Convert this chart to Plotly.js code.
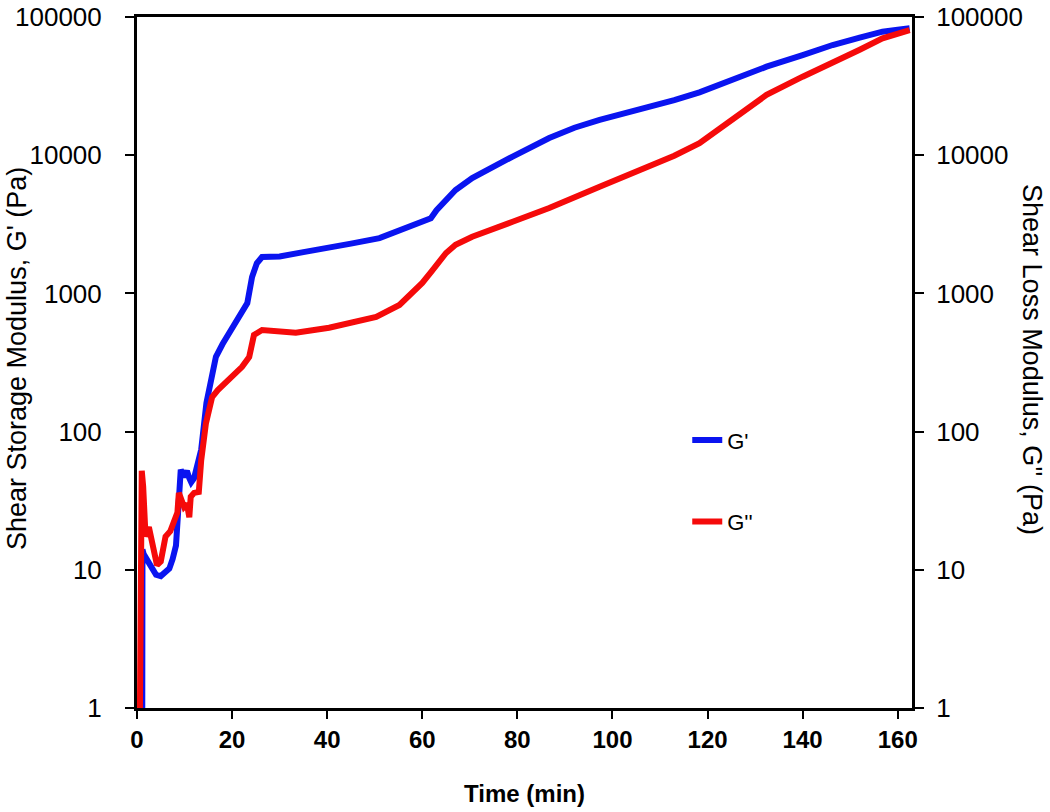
<!DOCTYPE html>
<html>
<head>
<meta charset="utf-8">
<script src="https://cdn.plot.ly/plotly-3.0.1.min.js"></script>
<style>
  html, body { margin: 0; padding: 0; background: #fff; }
  #chart { width: 1050px; height: 812px; }
</style>
</head>
<body>
<div id="chart"></div>
<script>
// Time (min) and storage modulus G' (Pa)
var timeGp = [1.1, 1.15, 1.4, 2.0, 3.0, 4.0, 5.0, 6.0, 6.8, 7.5, 8.2, 8.7, 9.2, 9.8, 10.5, 11.0, 11.4, 12.0, 13.0, 13.5, 14.6, 15.5, 16.6, 18.0, 19.4, 21.0, 22.1, 23.2, 24.2, 25.2, 26.3, 28, 30, 35, 40.4, 45, 51, 57.3, 61.8, 63, 65, 67, 70.5, 75, 79, 86.7, 92, 97.3, 102, 107.8, 113, 118.3, 124, 128.8, 132.4, 140, 146.3, 152, 156.8, 160, 162.5];
var storageModulus = [0.5, 14, 13, 12, 10.5, 9.2, 9, 9.5, 10.2, 12, 15, 28, 53, 47, 52, 46, 43, 46, 62, 74, 161, 240, 348, 430, 517, 640, 759, 851, 1315, 1650, 1834, 1840, 1850, 1990, 2130, 2290, 2510, 3040, 3500, 4000, 4740, 5600, 6840, 8300, 9780, 13300, 15800, 18000, 19800, 22400, 25000, 28500, 34000, 39200, 43700, 53000, 62700, 71000, 78300, 81000, 82800];

// Time (min) and loss modulus G'' (Pa)
var timeGpp = [0.55, 0.7, 0.85, 1.0, 1.3, 1.8, 2.5, 3.2, 4.2, 5.0, 5.5, 6.0, 7.0, 7.8, 8.5, 8.8, 9.3, 9.9, 10.5, 11.0, 11.3, 12.0, 13.0, 13.3, 13.5, 14.5, 15.8, 17.0, 18.7, 20.5, 22.1, 23.6, 24.6, 26.3, 30, 33.4, 40.4, 44.6, 50.3, 55.2, 60, 62, 65, 67, 70.5, 79, 86.7, 97.3, 107.8, 113, 118.3, 124, 128.8, 132.4, 140, 146.3, 152, 156.8, 162.5];
var lossModulus = [0.5, 5, 30, 52, 40, 17.4, 20.4, 15, 10.8, 11.5, 15, 17.4, 19, 21.8, 26, 36, 32, 28.5, 30, 24, 33.8, 36, 36.6, 50, 62, 115, 178, 200, 225, 260, 294, 347, 500, 543, 530, 520, 564, 610, 677, 824, 1190, 1450, 1960, 2250, 2570, 3300, 4150, 5920, 8260, 9900, 12200, 17000, 22400, 27300, 37000, 47500, 58000, 70000, 80500];

var xTicks = [0, 20, 40, 60, 80, 100, 120, 140, 160];
var yTickVals = [1, 10, 100, 1000, 10000, 100000];
var yTickText = ['1', '10', '100', '1000', '10000', '100000'];

var seriesNames = ["G'", "G''"];

var traces = [
  {
    x: timeGp, y: storageModulus, name: seriesNames[0], type: 'scatter', mode: 'lines',
    line: {color: '#0a14f0', width: 6}, yaxis: 'y', legendgroup: 'a'
  },
  {
    x: timeGpp, y: lossModulus, name: seriesNames[1], type: 'scatter', mode: 'lines',
    line: {color: '#f50a0a', width: 6}, yaxis: 'y2', legendgroup: 'b'
  }
];

var sans = 'Liberation Sans, Arial, sans-serif';

var layout = {
  width: 1050, height: 812,
  margin: {l: 137, r: 138, t: 17, b: 104, pad: 0},
  paper_bgcolor: '#ffffff', plot_bgcolor: '#ffffff',
  showlegend: true,
  legend: {
    x: 0.71, y: 0.418, xanchor: 'left', yanchor: 'top',
    font: {family: sans, size: 22, color: '#000'},
    tracegroupgap: 50, bgcolor: 'rgba(0,0,0,0)', borderwidth: 0
  },
  xaxis: {
    range: [0, 163], tickvals: xTicks, ticktext: xTicks.map(String),
    showline: true, linecolor: '#000', linewidth: 3, mirror: true,
    ticks: 'outside', ticklen: 8, tickwidth: 2, tickcolor: '#000',
    showgrid: false, zeroline: false,
    tickfont: {family: sans, size: 24, color: '#000', weight: 'bold'},
    title: {text: 'Time (min)', font: {family: sans, size: 24, color: '#000', weight: 'bold'}, standoff: 34}
  },
  yaxis: {
    type: 'log', range: [0, 5], tickvals: yTickVals, ticktext: yTickText,
    showline: true, linecolor: '#000', linewidth: 3,
    ticks: 'outside', ticklen: 9, tickwidth: 2, tickcolor: '#000',
    showgrid: false, zeroline: false,
    tickfont: {family: sans, size: 26, color: '#000'},
    ticklabelstandoff: 18
  },
  yaxis2: {
    type: 'log', range: [0, 5], tickvals: yTickVals, ticktext: yTickText,
    overlaying: 'y', side: 'right',
    showline: true, linecolor: '#000', linewidth: 3,
    ticks: 'outside', ticklen: 9, tickwidth: 2, tickcolor: '#000',
    showgrid: false, zeroline: false,
    tickfont: {family: sans, size: 26, color: '#000'},
    ticklabelstandoff: 7
  },
  annotations: [
    {
      text: "Shear Storage Modulus, G' (Pa)", xref: 'paper', yref: 'paper',
      x: 0, y: 0.505, xanchor: 'center', yanchor: 'middle', xshift: -120,
      textangle: -90, showarrow: false,
      font: {family: sans, size: 27, color: '#000'}
    },
    {
      text: "Shear Loss Modulus, G'' (Pa)", xref: 'paper', yref: 'paper',
      x: 1, y: 0.505, xanchor: 'center', yanchor: 'middle', xshift: 120,
      textangle: 90, showarrow: false,
      font: {family: sans, size: 27, color: '#000'}
    }
  ]
};

Plotly.newPlot('chart', traces, layout, {displayModeBar: false, staticPlot: true});
</script>
</body>
</html>
